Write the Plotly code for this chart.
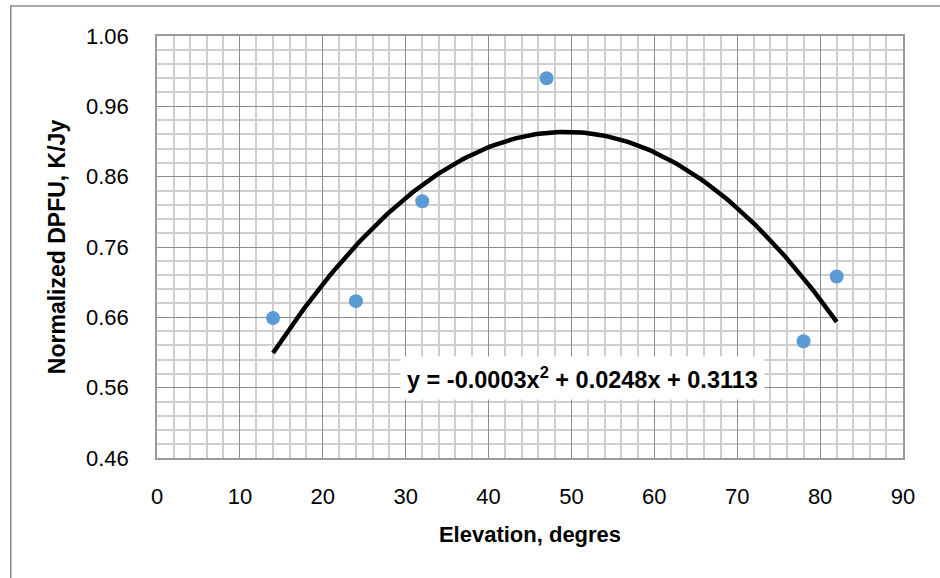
import numpy as np
import plotly.graph_objects as go

elevation = [14, 24, 32, 47, 78, 82]
dpfu = [0.659, 0.683, 0.825, 1.000, 0.626, 0.718]
equation_text = "y = -0.0003x<sup>2</sup> + 0.0248x + 0.3113"
x_title = "Elevation, degres"
y_title = "Normalized DPFU, K/Jy"

coef = np.polyfit(elevation, dpfu, 2)
xf = np.linspace(min(elevation), max(elevation), 200)
yf = np.polyval(coef, xf)

fig = go.Figure()
fig.add_trace(go.Scatter(x=xf, y=yf, mode="lines",
                         line=dict(color="black", width=4.5), hoverinfo="skip"))
fig.add_trace(go.Scatter(x=elevation, y=dpfu, mode="markers",
                         marker=dict(color="#5B9BD5", size=14)))

font = "Liberation Sans"
fig.update_layout(
    width=940, height=578,
    margin=dict(l=156.5, r=36.5, t=36, b=120),
    paper_bgcolor="white", plot_bgcolor="white",
    showlegend=False,
    font=dict(family=font, size=22, color="black"),
    xaxis=dict(range=[0, 90], dtick=10, tick0=0,
               tickfont=dict(family=font, size=22, color="black"),
               showgrid=True, gridcolor="#8c8c8c", gridwidth=1,
               minor=dict(dtick=2, showgrid=True, gridcolor="#cfcfcf", gridwidth=1.5),
               showline=True, linecolor="#9a9a9a", linewidth=1.5, mirror=True,
               zeroline=False, ticks="", ticklabelstandoff=18,
               title=dict(text="<b>" + x_title + "</b>",
                          font=dict(family=font, size=22, color="black"), standoff=18)),
    yaxis=dict(range=[0.46, 1.06], dtick=0.1, tick0=0.46, tickformat=".2f",
               tickfont=dict(family=font, size=22, color="black"),
               showgrid=True, gridcolor="#8c8c8c", gridwidth=1,
               minor=dict(dtick=0.02, showgrid=True, gridcolor="#cfcfcf", gridwidth=1.5),
               showline=True, linecolor="#9a9a9a", linewidth=1.5, mirror=True,
               zeroline=False, ticks="", ticklabelstandoff=22,
               title=dict(text="<b>" + y_title + "</b>",
                          font=dict(family=font, size=23, color="black"), standoff=14)),
    shapes=[dict(type="rect", xref="paper", yref="paper",
                 x0=-0.196, x1=1.1, y0=-0.6, y1=1.071,
                 line=dict(color="#8c8c8c", width=1.5), fillcolor="rgba(0,0,0,0)",
                 layer="below")],
    annotations=[dict(text="<b>" + equation_text + "</b>", x=51.3, y=0.5735,
                      xref="x", yref="y", showarrow=False,
                      font=dict(size=23.5, family=font, color="black"),
                      bgcolor="white", borderpad=6)],
)
fig.write_html("out.html")
